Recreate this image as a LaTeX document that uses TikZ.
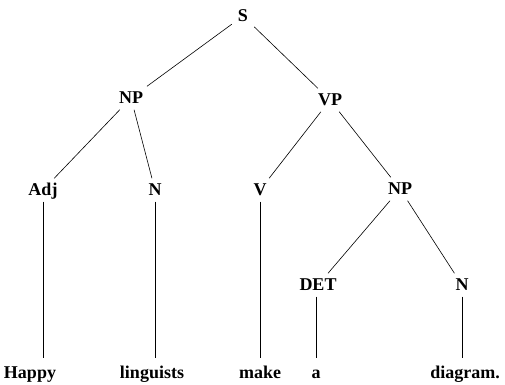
\documentclass[tikz,border=0pt]{standalone}
\usepackage{fontspec}
\setmainfont{Liberation Serif}
\usetikzlibrary{positioning}

\begin{document}
\begin{tikzpicture}[
    x=1pt, y=-1pt,
    cat/.style={font=\fontsize{18}{20}\selectfont\bfseries, inner sep=6pt, text height=11pt, text depth=0pt},
    word/.style={font=\fontsize{18}{20}\selectfont\bfseries, inner sep=8pt, text height=12pt, text depth=4pt},
    branch/.style={semithick}
]
    \useasboundingbox (0,0) rectangle (505,384);

    % Phrase nodes
    \node[cat] (s) at (243,16) {S};
    \node[cat] (np) at (131,98) {NP};
    \node[cat] (vp) at (330,100) {VP};

    % Pre-terminals
    \node[cat] (adj) at (43,190) {Adj};
    \node[cat] (n) at (155,190) {N};
    \node[cat] (v) at (260,190) {V};
    \node[cat] (np2) at (400,189) {NP};
    \node[cat] (det) at (318,285) {DET};
    \node[cat] (n2) at (462,285) {N};

    % Words
    \node[word] (happy) at (30,374) {Happy};
    \node[word] (linguists) at (152,374) {linguists};
    \node[word] (make) at (260,374) {make};
    \node[word] (a) at (316,374) {a};
    \node[word] (diagram) at (465,374) {diagram.};

    % Branches
    \draw[branch] (s) -- (np);
    \draw[branch] (s) -- (vp);
    \draw[branch] (np) -- (adj);
    \draw[branch] (np) -- (n);
    \draw[branch] (vp) -- (v);
    \draw[branch] (vp) -- (np2);
    \draw[branch] (np2) -- (det);
    \draw[branch] (np2) -- (n2);

    % Lexical lines
    \draw[branch] (adj) -- (adj |- happy.north);
    \draw[branch] (n) -- (n |- linguists.north);
    \draw[branch] (v) -- (v |- make.north);
    \draw[branch] (det.south -| a) -- (a);
    \draw[branch] (n2) -- (n2 |- diagram.north);
\end{tikzpicture}
\end{document}
